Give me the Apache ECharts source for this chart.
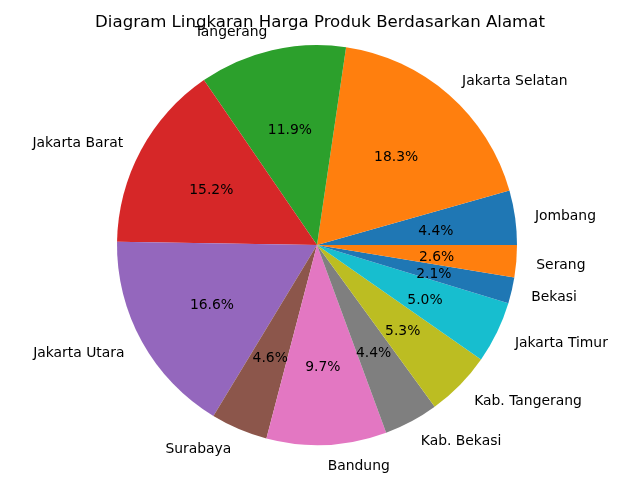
<!DOCTYPE html>
<html>
<head>
<meta charset="utf-8">
<script src="https://cdn.jsdelivr.net/npm/echarts@6/dist/echarts.min.js"></script>
<style>html,body{margin:0;padding:0;background:#fff}#c{width:640px;height:480px}</style>
</head>
<body>
<div id="c"></div>
<script>
const categories = ['Jombang','Jakarta Selatan','Tangerang','Jakarta Barat','Jakarta Utara','Surabaya','Bandung','Kab. Bekasi','Kab. Tangerang','Jakarta Timur','Bekasi','Serang'];
const values = [4.4, 18.3, 11.9, 15.2, 16.6, 4.6, 9.7, 4.4, 5.3, 5.0, 2.1, 2.6];
const colors = ['#1f77b4','#ff7f0e','#2ca02c','#d62728','#9467bd','#8c564b','#e377c2','#7f7f7f','#bcbd22','#17becf','#1f77b4','#ff7f0e'];
const titleText = 'Diagram Lingkaran Harga Produk Berdasarkan Alamat';

const chart = echarts.init(document.getElementById('c'), null, {renderer:'canvas'});
const font = 'DejaVu Sans';
const data = categories.map((n,i)=>({name:n, value:values[i], itemStyle:{color:colors[i]}}));
const dataT = categories.map((n,i)=>({name:n, value:values[i]}));
chart.setOption({
  animation:false,
  title:{text:titleText, left:'center', top:9, textStyle:{fontFamily:font, fontSize:16.6, fontWeight:'normal', color:'#000'}},
  series:[
    {
      type:'pie', center:[317,245], radius:[0,200], startAngle:0, clockwise:false,
      avoidLabelOverlap:false, silent:true,
      data:data,
      itemStyle:{borderWidth:0},
      label:{show:true, position:'outside', formatter:'{b}', fontFamily:font, fontSize:13.9, color:'#000', distanceToLabelLine:0, offset:[0,2]},
      labelLine:{show:false, length:20, length2:0}
    },
    {
      type:'pie', center:[317,245], radius:[0,234], startAngle:0, clockwise:false,
      avoidLabelOverlap:false, silent:true,
      data:dataT,
      itemStyle:{color:'rgba(0,0,0,0)', borderWidth:0},
      label:{show:true, position:'inside', formatter:p=>p.value.toFixed(1)+'%', fontFamily:font, fontSize:13.9, color:'#000', offset:[0,2.5]},
      labelLine:{show:false}
    }
  ]
});
</script>
</body>
</html>
